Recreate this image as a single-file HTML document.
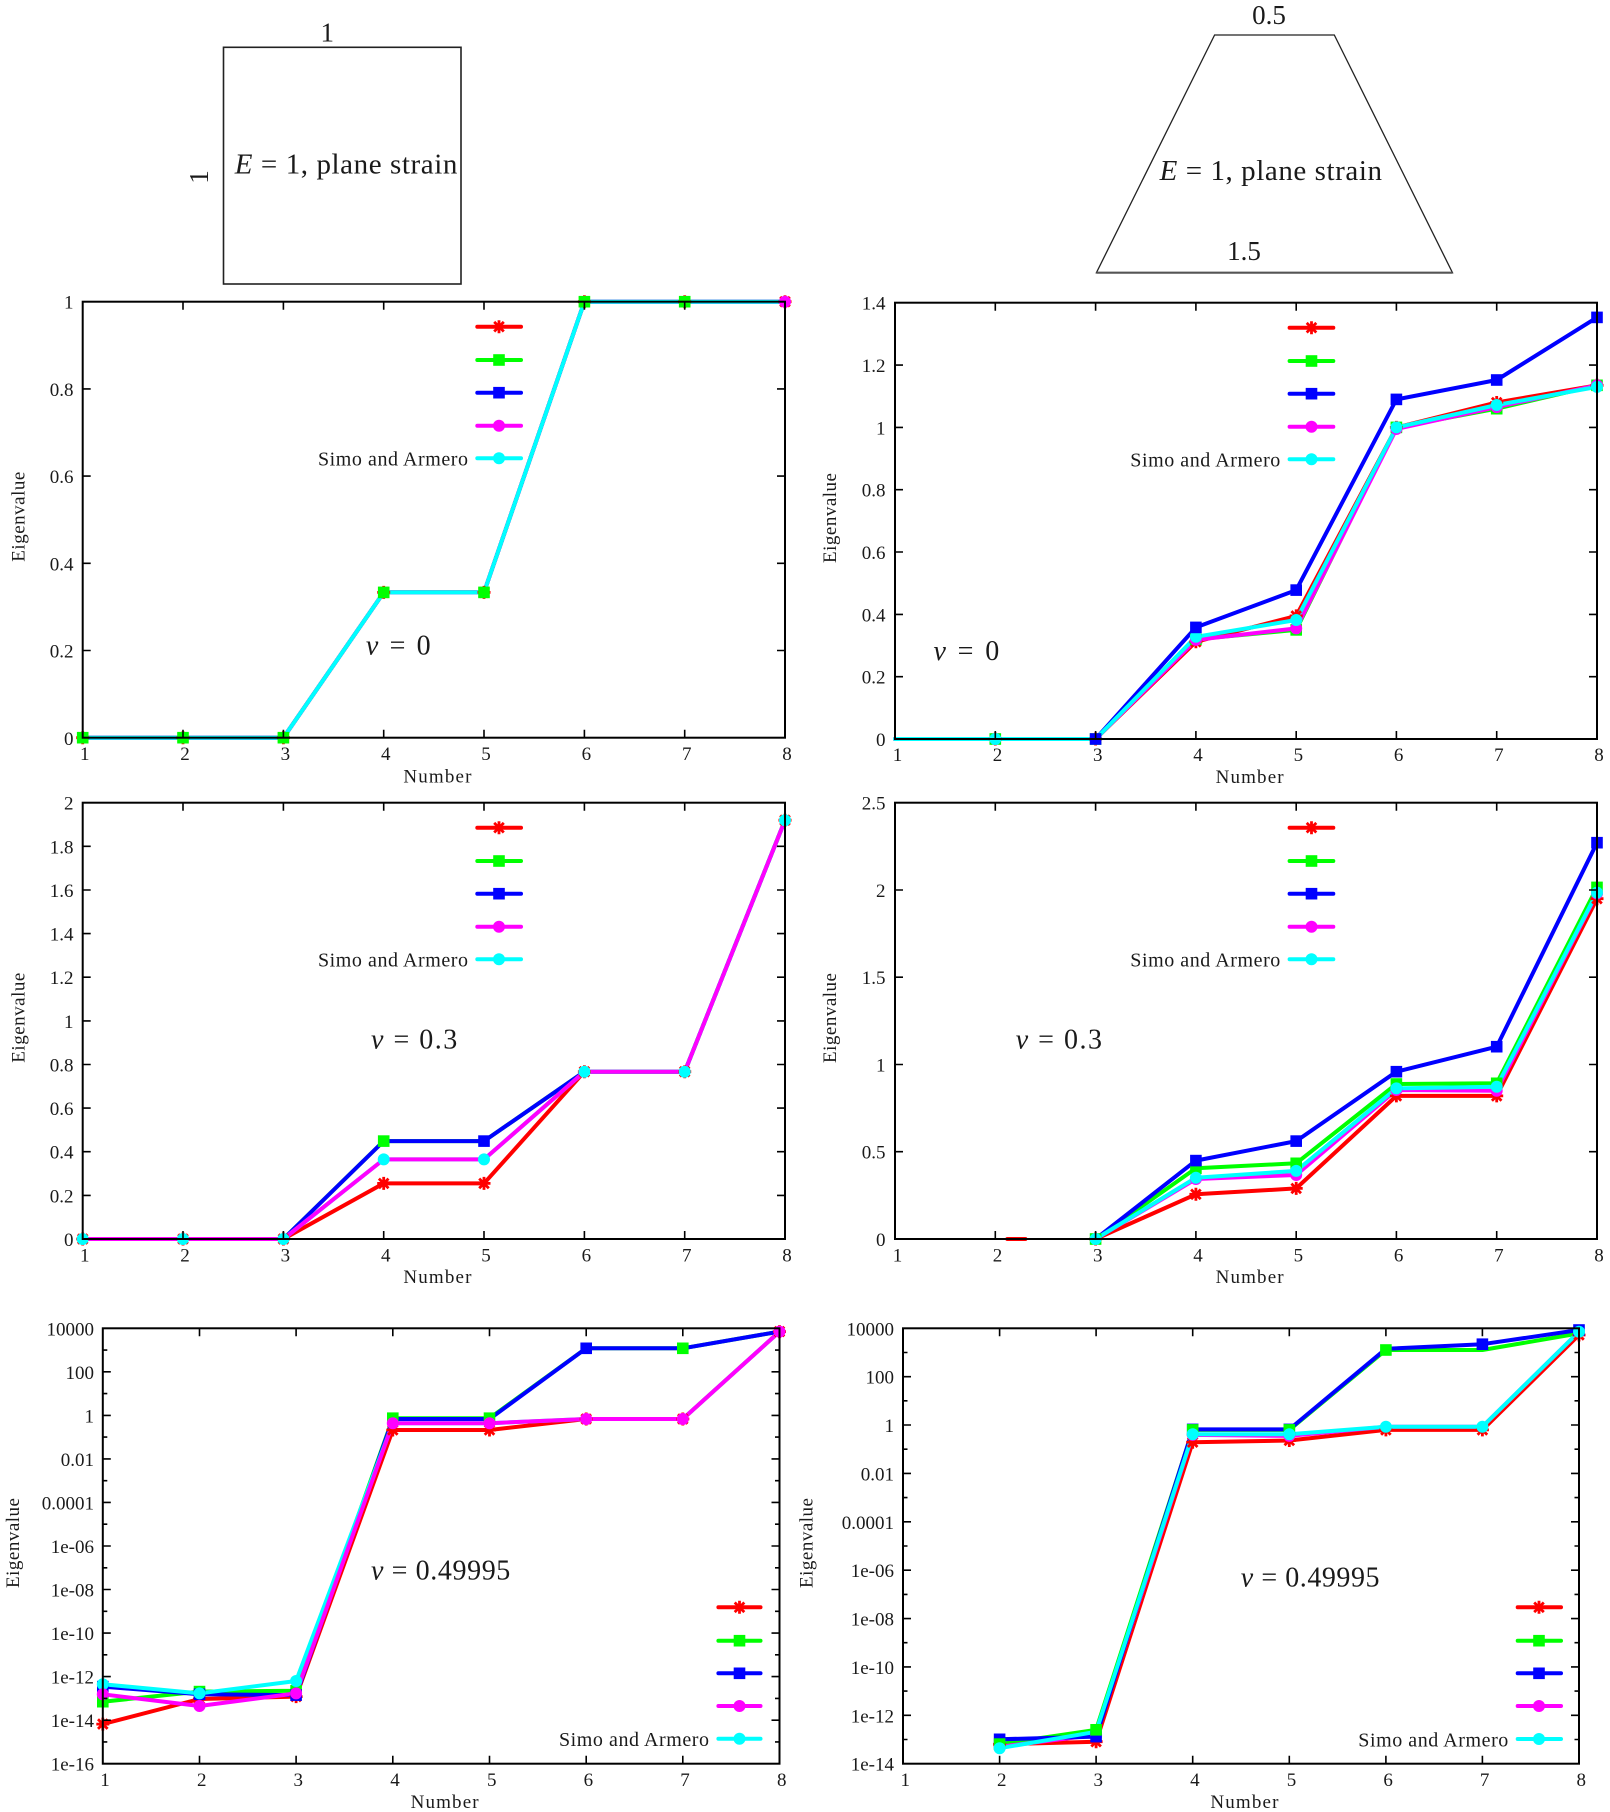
<!DOCTYPE html>
<html><head><meta charset="utf-8"><style>
html,body{margin:0;padding:0;background:#fff}
svg{display:block}
text{font-family:"Liberation Serif",serif;fill:#1a1a1a}
.t{font-size:19px}
.xl{font-size:19px;text-anchor:middle}
.yl{font-size:19px;text-anchor:end}
.lab{font-size:19px}
.big{font-size:27px}
.ann{font-size:28px}
.ln{fill:none;stroke-width:4;stroke-linejoin:round;stroke-linecap:round}
.fr{fill:none;stroke:#000;stroke-width:2}
.tk{fill:none;stroke:#000;stroke-width:1.6}
</style></head><body>
<svg width="1610" height="1812" viewBox="0 0 1610 1812" xmlns="http://www.w3.org/2000/svg" xmlns:xlink="http://www.w3.org/1999/xlink">
<defs>
<g id="st" stroke="#f00" stroke-width="2.8" fill="none"><path d="M-6.5 0H6.5M0-6.5V6.5M-4.8-4.8L4.8 4.8M-4.8 4.8L4.8-4.8"/></g>
<rect id="sq" x="-5.8" y="-5.8" width="11.6" height="11.6"/>
<circle id="ci" r="6"/>
<polyline id="tlp" points="82.7,737.7 183,737.7 283.4,737.7 383.7,592.4 484,592.4 584.4,301.7 684.7,301.7 785,301.7"/>
</defs>
<rect width="1610" height="1812" fill="#fff"/>

<!-- Top diagrams -->
<rect x="223.5" y="47.3" width="237.5" height="236.7" fill="none" stroke="#222" stroke-width="1.6"/>
<text class="big" x="327.3" y="41.7" text-anchor="middle">1</text>
<text class="big" x="208" y="177" text-anchor="middle" transform="rotate(-90 208 177)">1</text>
<text x="234.8" y="173.3" style="font-size:29px" textLength="222.6"><tspan font-style="italic">E</tspan> = 1, plane strain</text>

<polygon points="1214.6,35 1334.3,35 1452.5,272.7 1096.4,272.7" fill="none" stroke="#222" stroke-width="1.3"/>
<path d="M1096.4 272.7H1452.5" stroke="#555" stroke-width="2.2"/>
<text class="big" x="1269" y="24" text-anchor="middle">0.5</text>
<text x="1159.6" y="180" style="font-size:29px" textLength="222.4"><tspan font-style="italic">E</tspan> = 1, plane strain</text>
<text class="big" x="1244" y="260" text-anchor="middle">1.5</text>

<!-- ============ TL ============ -->
<g class="ln">
<use href="#tlp" stroke="#f00"/><use href="#tlp" stroke="#0f0"/><use href="#tlp" stroke="#00f"/><use href="#tlp" stroke="#f0f"/><use href="#tlp" stroke="#0ff"/>
</g>
<g>
<use href="#st" x="82.7" y="737.7"/><use href="#st" x="183" y="737.7"/><use href="#st" x="283.4" y="737.7"/><use href="#st" x="383.7" y="592.4"/><use href="#st" x="484" y="592.4"/><use href="#st" x="584.4" y="301.7"/><use href="#st" x="684.7" y="301.7"/><use href="#st" x="785" y="301.7"/>
<g fill="#0f0"><use href="#sq" x="82.7" y="737.7"/><use href="#sq" x="183" y="737.7"/><use href="#sq" x="283.4" y="737.7"/><use href="#sq" x="383.7" y="592.4"/><use href="#sq" x="484" y="592.4"/><use href="#sq" x="584.4" y="301.7"/><use href="#sq" x="684.7" y="301.7"/></g>
<g fill="#f0f"><use href="#ci" x="785" y="301.7"/></g>
</g>
<rect class="fr" x="82.7" y="301.7" width="702.3" height="436"/>
<path class="tk" d="M183 737.7v-8M283.4 737.7v-8M383.7 737.7v-8M484 737.7v-8M584.4 737.7v-8M684.7 737.7v-8M183 301.7v8M283.4 301.7v8M383.7 301.7v8M484 301.7v8M584.4 301.7v8M684.7 301.7v8M82.7 650.5h8M82.7 563.3h8M82.7 476.1h8M82.7 388.9h8M785 650.5h-8M785 563.3h-8M785 476.1h-8M785 388.9h-8"/>
<g class="yl"><text class="yl" x="73.5" y="745">0</text><text class="yl" x="73.5" y="657.5">0.2</text><text class="yl" x="73.5" y="570.3">0.4</text><text class="yl" x="73.5" y="483.1">0.6</text><text class="yl" x="73.5" y="395.9">0.8</text><text class="yl" x="73.5" y="308.7">1</text></g>
<text class="xl" x="84.7" y="760">1</text><text class="xl" x="185" y="760">2</text><text class="xl" x="285.4" y="760">3</text><text class="xl" x="385.7" y="760">4</text><text class="xl" x="486" y="760">5</text><text class="xl" x="586.4" y="760">6</text><text class="xl" x="686.7" y="760">7</text><text class="xl" x="787" y="760">8</text>
<text class="lab" x="403.4" y="782.5" textLength="68">Number</text>
<text class="lab" x="24.5" y="516.7" text-anchor="middle" textLength="90" transform="rotate(-90 24.5 516.7)">Eigenvalue</text>
<text class="ann" x="365.9" y="654.3" textLength="64.7"><tspan font-style="italic">ν</tspan> = 0</text>
<g class="ln"><path stroke="#f00" d="M477.3 326.7H521"/><path stroke="#0f0" d="M477.3 360H521"/><path stroke="#00f" d="M477.3 392.7H521"/><path stroke="#f0f" d="M477.3 425.7H521"/><path stroke="#0ff" d="M477.3 458.3H521"/></g>
<use href="#st" x="499" y="326.7"/><use href="#sq" fill="#0f0" x="499" y="360"/><use href="#sq" fill="#00f" x="499" y="392.7"/><use href="#ci" fill="#f0f" x="499" y="425.7"/><use href="#ci" fill="#0ff" x="499" y="458.3"/>
<text x="318" y="465.5" style="font-size:20px" textLength="150">Simo and Armero</text>

<!-- ============ TR ============ -->
<g class="ln">
<polyline stroke="#f00" points="895,739 995.3,739 1095.6,739 1195.9,641.8 1296.2,615.9 1396.4,427.4 1496.7,402.5 1597,385.3"/>
<polyline stroke="#0f0" points="895,739 995.3,739 1095.6,739 1195.9,639.3 1296.2,629.9 1396.4,427.4 1496.7,408.7 1597,385.3"/>
<polyline stroke="#00f" points="895,739 995.3,739 1095.6,739 1195.9,627.4 1296.2,590.1 1396.4,399.4 1496.7,380 1597,317.4"/>
<polyline stroke="#f0f" points="895,739 995.3,739 1095.6,739 1195.9,639.9 1296.2,628.4 1396.4,429 1496.7,407.1 1597,385.3"/>
<polyline stroke="#0ff" points="895,739 995.3,739 1095.6,739 1195.9,636.8 1296.2,620 1396.4,427.4 1496.7,405 1597,386.9"/>
</g>
<use href="#st" x="995.3" y="739"/><use href="#st" x="1095.6" y="739"/><use href="#st" x="1195.9" y="641.8"/><use href="#st" x="1296.2" y="615.9"/><use href="#st" x="1396.4" y="427.4"/><use href="#st" x="1496.7" y="402.5"/><use href="#st" x="1597" y="385.3"/>
<g fill="#0f0"><use href="#sq" x="995.3" y="739"/><use href="#sq" x="1095.6" y="739"/><use href="#sq" x="1195.9" y="639.3"/><use href="#sq" x="1296.2" y="629.9"/><use href="#sq" x="1396.4" y="427.4"/><use href="#sq" x="1496.7" y="408.7"/><use href="#sq" x="1597" y="385.3"/></g>
<g fill="#f0f"><use href="#ci" x="995.3" y="739"/><use href="#ci" x="1195.9" y="639.9"/><use href="#ci" x="1296.2" y="628.4"/><use href="#ci" x="1396.4" y="429"/><use href="#ci" x="1496.7" y="407.1"/><use href="#ci" x="1597" y="385.3"/></g>
<g fill="#0ff"><use href="#ci" x="995.3" y="739"/><use href="#ci" x="1195.9" y="636.8"/><use href="#ci" x="1296.2" y="620"/><use href="#ci" x="1396.4" y="427.4"/><use href="#ci" x="1496.7" y="405"/><use href="#ci" x="1597" y="386.9"/></g>
<g fill="#00f"><use href="#sq" x="1095.6" y="739"/><use href="#sq" x="1195.9" y="627.4"/><use href="#sq" x="1296.2" y="590.1"/><use href="#sq" x="1396.4" y="399.4"/><use href="#sq" x="1496.7" y="380"/><use href="#sq" x="1597" y="317.4"/></g>
<rect class="fr" x="895" y="302.7" width="702" height="436.3"/>
<path class="tk" d="M995.3 739v-8M1095.6 739v-8M1195.9 739v-8M1296.2 739v-8M1396.4 739v-8M1496.7 739v-8M995.3 302.7v8M1095.6 302.7v8M1195.9 302.7v8M1296.2 302.7v8M1396.4 302.7v8M1496.7 302.7v8M895 676.7h8M895 614.4h8M895 552h8M895 489.7h8M895 427.4h8M895 365.1h8M1597 676.7h-8M1597 614.4h-8M1597 552h-8M1597 489.7h-8M1597 427.4h-8M1597 365.1h-8"/>
<text class="yl" x="885.5" y="746">0</text><text class="yl" x="885.5" y="683.7">0.2</text><text class="yl" x="885.5" y="621.4">0.4</text><text class="yl" x="885.5" y="559">0.6</text><text class="yl" x="885.5" y="496.7">0.8</text><text class="yl" x="885.5" y="434.4">1</text><text class="yl" x="885.5" y="372.1">1.2</text><text class="yl" x="885.5" y="309.7">1.4</text>
<text class="xl" x="897.5" y="761">1</text><text class="xl" x="997.5" y="761">2</text><text class="xl" x="1097.8" y="761">3</text><text class="xl" x="1198" y="761">4</text><text class="xl" x="1298.4" y="761">5</text><text class="xl" x="1398.6" y="761">6</text><text class="xl" x="1498.9" y="761">7</text><text class="xl" x="1599" y="761">8</text>
<text class="lab" x="1215.6" y="783" textLength="68">Number</text>
<text class="lab" x="836" y="518" text-anchor="middle" textLength="90" transform="rotate(-90 836 518)">Eigenvalue</text>
<text class="ann" x="933.5" y="660" textLength="65.7"><tspan font-style="italic">ν</tspan> = 0</text>
<g class="ln"><path stroke="#f00" d="M1289.6 327.7H1333.3"/><path stroke="#0f0" d="M1289.6 361H1333.3"/><path stroke="#00f" d="M1289.6 393.7H1333.3"/><path stroke="#f0f" d="M1289.6 426.7H1333.3"/><path stroke="#0ff" d="M1289.6 459.3H1333.3"/></g>
<use href="#st" x="1311.5" y="327.7"/><use href="#sq" fill="#0f0" x="1311.5" y="361"/><use href="#sq" fill="#00f" x="1311.5" y="393.7"/><use href="#ci" fill="#f0f" x="1311.5" y="426.7"/><use href="#ci" fill="#0ff" x="1311.5" y="459.3"/>
<text x="1130.3" y="466.5" style="font-size:20px" textLength="150">Simo and Armero</text>

<!-- ============ ML ============ -->
<g class="ln">
<polyline stroke="#f00" points="82.7,1239 183,1239 283.4,1239 383.7,1183.4 484,1183.4 584.4,1071.7 684.7,1071.7 785,820.2"/>
<polyline stroke="#0f0" points="82.7,1239 183,1239 283.4,1239 383.7,1141.1 484,1141.1 584.4,1071.7 684.7,1071.7 785,820.2"/>
<polyline stroke="#00f" points="82.7,1239 183,1239 283.4,1239 383.7,1141.1 484,1141.1 584.4,1071.7 684.7,1071.7 785,820.2"/>
<polyline stroke="#0ff" points="82.7,1239 183,1239 283.4,1239 383.7,1159.4 484,1159.4 584.4,1071.7 684.7,1071.7 785,820.2"/>
<polyline stroke="#f0f" points="82.7,1239 183,1239 283.4,1239 383.7,1159.4 484,1159.4 584.4,1071.7 684.7,1071.7 785,820.2"/>
</g>
<use href="#st" x="82.7" y="1239"/><use href="#st" x="183" y="1239"/><use href="#st" x="283.4" y="1239"/><use href="#st" x="383.7" y="1183.4"/><use href="#st" x="484" y="1183.4"/><use href="#st" x="584.4" y="1071.7"/><use href="#st" x="684.7" y="1071.7"/><use href="#st" x="785" y="820.2"/>
<g fill="#00f"><use href="#sq" x="484" y="1141.1"/></g>
<g fill="#0f0"><use href="#sq" x="383.7" y="1141.1"/></g>
<g fill="#0ff"><use href="#ci" x="82.7" y="1239"/><use href="#ci" x="183" y="1239"/><use href="#ci" x="283.4" y="1239"/><use href="#ci" x="383.7" y="1159.4"/><use href="#ci" x="484" y="1159.4"/><use href="#ci" x="584.4" y="1071.7"/><use href="#ci" x="684.7" y="1071.7"/><use href="#ci" x="785" y="820.2"/></g>
<rect class="fr" x="82.7" y="802.7" width="702.3" height="436.3"/>
<path class="tk" d="M183 1239v-8M283.4 1239v-8M383.7 1239v-8M484 1239v-8M584.4 1239v-8M684.7 1239v-8M183 802.7v8M283.4 802.7v8M383.7 802.7v8M484 802.7v8M584.4 802.7v8M684.7 802.7v8M82.7 1195.4h8M82.7 1151.7h8M82.7 1108.1h8M82.7 1064.5h8M82.7 1020.9h8M82.7 977.2h8M82.7 933.6h8M82.7 890h8M82.7 846.3h8M785 1195.4h-8M785 1151.7h-8M785 1108.1h-8M785 1064.5h-8M785 1020.9h-8M785 977.2h-8M785 933.6h-8M785 890h-8M785 846.3h-8"/>
<text class="yl" x="73.5" y="1246">0</text><text class="yl" x="73.5" y="1202.4">0.2</text><text class="yl" x="73.5" y="1158.7">0.4</text><text class="yl" x="73.5" y="1115.1">0.6</text><text class="yl" x="73.5" y="1071.5">0.8</text><text class="yl" x="73.5" y="1027.9">1</text><text class="yl" x="73.5" y="984.2">1.2</text><text class="yl" x="73.5" y="940.6">1.4</text><text class="yl" x="73.5" y="897">1.6</text><text class="yl" x="73.5" y="853.3">1.8</text><text class="yl" x="73.5" y="809.7">2</text>
<text class="xl" x="84.7" y="1261.5">1</text><text class="xl" x="185" y="1261.5">2</text><text class="xl" x="285.4" y="1261.5">3</text><text class="xl" x="385.7" y="1261.5">4</text><text class="xl" x="486" y="1261.5">5</text><text class="xl" x="586.4" y="1261.5">6</text><text class="xl" x="686.7" y="1261.5">7</text><text class="xl" x="787" y="1261.5">8</text>
<text class="lab" x="403.4" y="1283" textLength="68">Number</text>
<text class="lab" x="24.5" y="1017.7" text-anchor="middle" textLength="90" transform="rotate(-90 24.5 1017.7)">Eigenvalue</text>
<text class="ann" x="371" y="1048.3" textLength="86.3"><tspan font-style="italic">ν</tspan> = 0.3</text>
<g class="ln"><path stroke="#f00" d="M477.3 827.7H521"/><path stroke="#0f0" d="M477.3 861H521"/><path stroke="#00f" d="M477.3 893.7H521"/><path stroke="#f0f" d="M477.3 926.7H521"/><path stroke="#0ff" d="M477.3 959.3H521"/></g>
<use href="#st" x="499" y="827.7"/><use href="#sq" fill="#0f0" x="499" y="861"/><use href="#sq" fill="#00f" x="499" y="893.7"/><use href="#ci" fill="#f0f" x="499" y="926.7"/><use href="#ci" fill="#0ff" x="499" y="959.3"/>
<text x="318" y="966.5" style="font-size:20px" textLength="150">Simo and Armero</text>

<!-- ============ MR ============ -->
<g class="ln">
<path stroke="#f00" d="M1007.3 1239H1025.4"/>
<polyline stroke="#f00" points="1095.6,1239 1195.9,1194.3 1296.2,1188.4 1396.4,1095.9 1496.7,1095.9 1597,898.7"/>
<polyline stroke="#0f0" points="1095.6,1239 1195.9,1168.3 1296.2,1163.3 1396.4,1084 1496.7,1083.3 1597,887.4"/>
<polyline stroke="#00f" points="1095.6,1239 1195.9,1160.6 1296.2,1141.1 1396.4,1071.7 1496.7,1046.7 1597,842.7"/>
<polyline stroke="#f0f" points="1095.6,1239 1195.9,1179 1296.2,1175 1396.4,1090 1496.7,1090.7 1597,893.5"/>
<polyline stroke="#0ff" points="1095.6,1239 1195.9,1177.7 1296.2,1170.9 1396.4,1088.4 1496.7,1086.7 1597,892.6"/>
</g>
<use href="#st" x="1095.6" y="1239"/><use href="#st" x="1195.9" y="1194.3"/><use href="#st" x="1296.2" y="1188.4"/><use href="#st" x="1396.4" y="1095.9"/><use href="#st" x="1496.7" y="1095.9"/><use href="#st" x="1597" y="898.7"/>
<g fill="#0f0"><use href="#sq" x="1095.6" y="1239"/><use href="#sq" x="1195.9" y="1168.3"/><use href="#sq" x="1296.2" y="1163.3"/><use href="#sq" x="1396.4" y="1084"/><use href="#sq" x="1496.7" y="1083.3"/><use href="#sq" x="1597" y="887.4"/></g>
<g fill="#00f"><use href="#sq" x="1195.9" y="1160.6"/><use href="#sq" x="1296.2" y="1141.1"/><use href="#sq" x="1396.4" y="1071.7"/><use href="#sq" x="1496.7" y="1046.7"/><use href="#sq" x="1597" y="842.7"/></g>
<g fill="#f0f"><use href="#ci" x="1195.9" y="1179"/><use href="#ci" x="1296.2" y="1175"/><use href="#ci" x="1396.4" y="1090"/><use href="#ci" x="1496.7" y="1090.7"/><use href="#ci" x="1597" y="893.5"/></g>
<g fill="#0ff"><use href="#ci" x="1095.6" y="1239"/><use href="#ci" x="1195.9" y="1177.7"/><use href="#ci" x="1296.2" y="1170.9"/><use href="#ci" x="1396.4" y="1088.4"/><use href="#ci" x="1496.7" y="1086.7"/><use href="#ci" x="1597" y="892.6"/></g>
<rect class="fr" x="895" y="802.7" width="702" height="436.3"/>
<path class="tk" d="M995.3 1239v-8M1095.6 1239v-8M1195.9 1239v-8M1296.2 1239v-8M1396.4 1239v-8M1496.7 1239v-8M995.3 802.7v8M1095.6 802.7v8M1195.9 802.7v8M1296.2 802.7v8M1396.4 802.7v8M1496.7 802.7v8M895 1151.7h8M895 1064.5h8M895 977.2h8M895 890h8M1597 1151.7h-8M1597 1064.5h-8M1597 977.2h-8M1597 890h-8"/>
<text class="yl" x="885.5" y="1246">0</text><text class="yl" x="885.5" y="1158.7">0.5</text><text class="yl" x="885.5" y="1071.5">1</text><text class="yl" x="885.5" y="984.2">1.5</text><text class="yl" x="885.5" y="897">2</text><text class="yl" x="885.5" y="809.7">2.5</text>
<text class="xl" x="897.5" y="1261.5">1</text><text class="xl" x="997.5" y="1261.5">2</text><text class="xl" x="1097.8" y="1261.5">3</text><text class="xl" x="1198" y="1261.5">4</text><text class="xl" x="1298.4" y="1261.5">5</text><text class="xl" x="1398.6" y="1261.5">6</text><text class="xl" x="1498.9" y="1261.5">7</text><text class="xl" x="1599" y="1261.5">8</text>
<text class="lab" x="1215.6" y="1283" textLength="68">Number</text>
<text class="lab" x="836" y="1018" text-anchor="middle" textLength="90" transform="rotate(-90 836 1018)">Eigenvalue</text>
<text class="ann" x="1015.7" y="1048.3" textLength="86.3"><tspan font-style="italic">ν</tspan> = 0.3</text>
<g class="ln"><path stroke="#f00" d="M1289.6 827.7H1333.3"/><path stroke="#0f0" d="M1289.6 861H1333.3"/><path stroke="#00f" d="M1289.6 893.7H1333.3"/><path stroke="#f0f" d="M1289.6 926.7H1333.3"/><path stroke="#0ff" d="M1289.6 959.3H1333.3"/></g>
<use href="#st" x="1311.5" y="827.7"/><use href="#sq" fill="#0f0" x="1311.5" y="861"/><use href="#sq" fill="#00f" x="1311.5" y="893.7"/><use href="#ci" fill="#f0f" x="1311.5" y="926.7"/><use href="#ci" fill="#0ff" x="1311.5" y="959.3"/>
<text x="1130.3" y="966.5" style="font-size:20px" textLength="150">Simo and Armero</text>

<!-- ============ BL ============ -->
<g class="ln">
<polyline stroke="#f00" points="102.8,1724.1 199.5,1699 296.1,1696.6 392.8,1430 489.5,1430 586.2,1419 682.8,1419 779.5,1331.6"/>
<polyline stroke="#0f0" points="102.8,1701.7 199.5,1691.6 296.1,1690.8 392.8,1418.2 489.5,1418.2 586.2,1348.3 682.8,1348.3 779.5,1331.6"/>
<polyline stroke="#00f" points="102.8,1686.6 199.5,1694.3 296.1,1695.1 392.8,1419 489.5,1419 586.2,1348.3 682.8,1348.3 779.5,1331.6"/>
<polyline stroke="#0ff" points="102.8,1684.2 199.5,1693.4 296.1,1681 392.8,1423.2 489.5,1423.2 586.2,1419 682.8,1419 779.5,1331.6"/>
<polyline stroke="#f0f" points="102.8,1694.3 199.5,1706 296.1,1693.4 392.8,1423.2 489.5,1423.2 586.2,1419 682.8,1419 779.5,1331.6"/>
</g>
<use href="#st" x="102.8" y="1724.1"/><use href="#st" x="199.5" y="1699"/><use href="#st" x="296.1" y="1696.6"/><use href="#st" x="392.8" y="1430"/><use href="#st" x="489.5" y="1430"/><use href="#st" x="586.2" y="1419"/><use href="#st" x="682.8" y="1419"/><use href="#st" x="779.5" y="1331.6"/>
<g fill="#0f0"><use href="#sq" x="102.8" y="1701.7"/><use href="#sq" x="199.5" y="1691.6"/><use href="#sq" x="296.1" y="1690.8"/><use href="#sq" x="392.8" y="1418.2"/><use href="#sq" x="489.5" y="1418.2"/><use href="#sq" x="682.8" y="1348.3"/></g>
<g fill="#00f"><use href="#sq" x="102.8" y="1686.6"/><use href="#sq" x="199.5" y="1694.3"/><use href="#sq" x="296.1" y="1695.1"/><use href="#sq" x="586.2" y="1348.3"/></g>
<g fill="#0ff"><use href="#ci" x="102.8" y="1684.2"/><use href="#ci" x="199.5" y="1693.4"/><use href="#ci" x="296.1" y="1681"/></g>
<g fill="#f0f"><use href="#ci" x="102.8" y="1694.3"/><use href="#ci" x="199.5" y="1706"/><use href="#ci" x="296.1" y="1693.4"/><use href="#ci" x="392.8" y="1423.2"/><use href="#ci" x="489.5" y="1423.2"/><use href="#ci" x="586.2" y="1419"/><use href="#ci" x="682.8" y="1419"/><use href="#ci" x="779.5" y="1331.6"/></g>
<rect class="fr" x="102.8" y="1328.3" width="676.7" height="435.4"/>
<path class="tk" d="M199.5 1763.7v-8M296.1 1763.7v-8M392.8 1763.7v-8M489.5 1763.7v-8M586.2 1763.7v-8M682.8 1763.7v-8M199.5 1328.3v8M296.1 1328.3v8M392.8 1328.3v8M489.5 1328.3v8M586.2 1328.3v8M682.8 1328.3v8M102.8 1720.2h8M102.8 1676.6h8M102.8 1633.1h8M102.8 1589.5h8M102.8 1546h8M102.8 1502.4h8M102.8 1458.9h8M102.8 1415.4h8M102.8 1371.8h8M779.5 1720.2h-8M779.5 1676.6h-8M779.5 1633.1h-8M779.5 1589.5h-8M779.5 1546h-8M779.5 1502.4h-8M779.5 1458.9h-8M779.5 1415.4h-8M779.5 1371.8h-8M102.8 1741.9h4.5M102.8 1698.4h4.5M102.8 1654.8h4.5M102.8 1611.3h4.5M102.8 1567.8h4.5M102.8 1524.2h4.5M102.8 1480.7h4.5M102.8 1437.1h4.5M102.8 1393.6h4.5M102.8 1350.1h4.5M779.5 1741.9h-4.5M779.5 1698.4h-4.5M779.5 1654.8h-4.5M779.5 1611.3h-4.5M779.5 1567.8h-4.5M779.5 1524.2h-4.5M779.5 1480.7h-4.5M779.5 1437.1h-4.5M779.5 1393.6h-4.5M779.5 1350.1h-4.5"/>
<text class="yl" x="94" y="1335.3">10000</text><text class="yl" x="94" y="1378.8">100</text><text class="yl" x="94" y="1422.4">1</text><text class="yl" x="94" y="1465.9">0.01</text><text class="yl" x="94" y="1509.4">0.0001</text><text class="yl" x="94" y="1553">1e-06</text><text class="yl" x="94" y="1596.5">1e-08</text><text class="yl" x="94" y="1640.1">1e-10</text><text class="yl" x="94" y="1683.6">1e-12</text><text class="yl" x="94" y="1727.2">1e-14</text><text class="yl" x="94" y="1770.7">1e-16</text>
<text class="xl" x="105" y="1786">1</text><text class="xl" x="201.7" y="1786">2</text><text class="xl" x="298.3" y="1786">3</text><text class="xl" x="395" y="1786">4</text><text class="xl" x="491.7" y="1786">5</text><text class="xl" x="588.4" y="1786">6</text><text class="xl" x="685" y="1786">7</text><text class="xl" x="781.7" y="1786">8</text>
<text class="lab" x="410.6" y="1808" textLength="68">Number</text>
<text class="lab" x="19" y="1543" text-anchor="middle" textLength="90" transform="rotate(-90 19 1543)">Eigenvalue</text>
<text class="ann" x="371" y="1579.3" textLength="139.3"><tspan font-style="italic">ν</tspan> = 0.49995</text>
<g class="ln"><path stroke="#f00" d="M718.4 1607.3H760.5"/><path stroke="#0f0" d="M718.4 1640.7H760.5"/><path stroke="#00f" d="M718.4 1673.3H760.5"/><path stroke="#f0f" d="M718.4 1706H760.5"/><path stroke="#0ff" d="M718.4 1738.7H760.5"/></g>
<use href="#st" x="739.5" y="1607.3"/><use href="#sq" fill="#0f0" x="739.5" y="1640.7"/><use href="#sq" fill="#00f" x="739.5" y="1673.3"/><use href="#ci" fill="#f0f" x="739.5" y="1706"/><use href="#ci" fill="#0ff" x="739.5" y="1738.7"/>
<text x="559" y="1746" style="font-size:20px" textLength="150">Simo and Armero</text>

<!-- ============ BR ============ -->
<g class="ln">
<polyline stroke="#f00" points="999.6,1744.3 1096.1,1741.7 1192.7,1442.2 1289.3,1440.5 1385.9,1429.9 1482.4,1429.9 1579,1335"/>
<polyline stroke="#0f0" points="999.6,1744.1 1096.1,1729.8 1192.7,1429.9 1289.3,1429.9 1385.9,1350 1482.4,1350 1579,1333.4"/>
<polyline stroke="#f0f" points="999.6,1746.8 1096.1,1734.9 1192.7,1434.9 1289.3,1435.9 1385.9,1426.7 1482.4,1426.7 1579,1331.7"/>
<polyline stroke="#00f" points="999.6,1739.3 1096.1,1736.6 1192.7,1429.4 1289.3,1429.4 1385.9,1348.8 1482.4,1344.2 1579,1330"/>
<polyline stroke="#0ff" points="999.6,1748.2 1096.1,1731.8 1192.7,1434.2 1289.3,1434.2 1385.9,1426.7 1482.4,1426.7 1579,1331.7"/>
</g>
<use href="#st" x="999.6" y="1744.3"/><use href="#st" x="1096.1" y="1741.7"/><use href="#st" x="1192.7" y="1442.2"/><use href="#st" x="1289.3" y="1440.5"/><use href="#st" x="1385.9" y="1429.9"/><use href="#st" x="1482.4" y="1429.9"/><use href="#st" x="1579" y="1335"/>
<g fill="#f0f"><use href="#ci" x="999.6" y="1746.8"/><use href="#ci" x="1096.1" y="1734.9"/><use href="#ci" x="1192.7" y="1434.9"/><use href="#ci" x="1289.3" y="1435.9"/></g>
<g fill="#00f"><use href="#sq" x="999.6" y="1739.3"/><use href="#sq" x="1096.1" y="1736.6"/><use href="#sq" x="1192.7" y="1429.4"/><use href="#sq" x="1289.3" y="1429.4"/><use href="#sq" x="1482.4" y="1344.2"/><use href="#sq" x="1579" y="1330"/></g>
<g fill="#0f0"><use href="#sq" x="999.6" y="1744.1"/><use href="#sq" x="1096.1" y="1729.8"/><use href="#sq" x="1192.7" y="1429.9"/><use href="#sq" x="1289.3" y="1429.9"/><use href="#sq" x="1385.9" y="1350"/></g>
<g fill="#0ff"><use href="#ci" x="999.6" y="1748.2"/><use href="#ci" x="1192.7" y="1434.2"/><use href="#ci" x="1289.3" y="1434.2"/><use href="#ci" x="1385.9" y="1426.7"/><use href="#ci" x="1482.4" y="1426.7"/><use href="#ci" x="1579" y="1331.7"/></g>
<rect class="fr" x="903" y="1328.3" width="676" height="435.4"/>
<path class="tk" d="M999.6 1763.7v-8M1096.1 1763.7v-8M1192.7 1763.7v-8M1289.3 1763.7v-8M1385.9 1763.7v-8M1482.4 1763.7v-8M999.6 1328.3v8M1096.1 1328.3v8M1192.7 1328.3v8M1289.3 1328.3v8M1385.9 1328.3v8M1482.4 1328.3v8M903 1715.3h8M903 1666.9h8M903 1618.6h8M903 1570.2h8M903 1521.8h8M903 1473.4h8M903 1425h8M903 1376.7h8M1579 1715.3h-8M1579 1666.9h-8M1579 1618.6h-8M1579 1570.2h-8M1579 1521.8h-8M1579 1473.4h-8M1579 1425h-8M1579 1376.7h-8M903 1739.5h4.5M903 1691.1h4.5M903 1642.7h4.5M903 1594.4h4.5M903 1546h4.5M903 1497.6h4.5M903 1449.2h4.5M903 1400.8h4.5M903 1352.5h4.5M1579 1739.5h-4.5M1579 1691.1h-4.5M1579 1642.7h-4.5M1579 1594.4h-4.5M1579 1546h-4.5M1579 1497.6h-4.5M1579 1449.2h-4.5M1579 1400.8h-4.5M1579 1352.5h-4.5"/>
<text class="yl" x="894" y="1335.3">10000</text><text class="yl" x="894" y="1383.7">100</text><text class="yl" x="894" y="1432">1</text><text class="yl" x="894" y="1480.4">0.01</text><text class="yl" x="894" y="1528.8">0.0001</text><text class="yl" x="894" y="1577.2">1e-06</text><text class="yl" x="894" y="1625.6">1e-08</text><text class="yl" x="894" y="1673.9">1e-10</text><text class="yl" x="894" y="1722.3">1e-12</text><text class="yl" x="894" y="1770.7">1e-14</text>
<text class="xl" x="905.2" y="1786">1</text><text class="xl" x="1001.8" y="1786">2</text><text class="xl" x="1098.3" y="1786">3</text><text class="xl" x="1194.9" y="1786">4</text><text class="xl" x="1291.5" y="1786">5</text><text class="xl" x="1388.1" y="1786">6</text><text class="xl" x="1484.6" y="1786">7</text><text class="xl" x="1581.2" y="1786">8</text>
<text class="lab" x="1210.4" y="1808" textLength="68">Number</text>
<text class="lab" x="812.5" y="1543" text-anchor="middle" textLength="90" transform="rotate(-90 812.5 1543)">Eigenvalue</text>
<text class="ann" x="1240.8" y="1586.7" textLength="138.7"><tspan font-style="italic">ν</tspan> = 0.49995</text>
<g class="ln"><path stroke="#f00" d="M1517.7 1607.3H1561"/><path stroke="#0f0" d="M1517.7 1640.7H1561"/><path stroke="#00f" d="M1517.7 1673.3H1561"/><path stroke="#f0f" d="M1517.7 1706H1561"/><path stroke="#0ff" d="M1517.7 1739H1561"/></g>
<use href="#st" x="1539" y="1607.3"/><use href="#sq" fill="#0f0" x="1539" y="1640.7"/><use href="#sq" fill="#00f" x="1539" y="1673.3"/><use href="#ci" fill="#f0f" x="1539" y="1706"/><use href="#ci" fill="#0ff" x="1539" y="1739"/>
<text x="1358.3" y="1746.5" style="font-size:20px" textLength="150">Simo and Armero</text>
</svg>
</body></html>
